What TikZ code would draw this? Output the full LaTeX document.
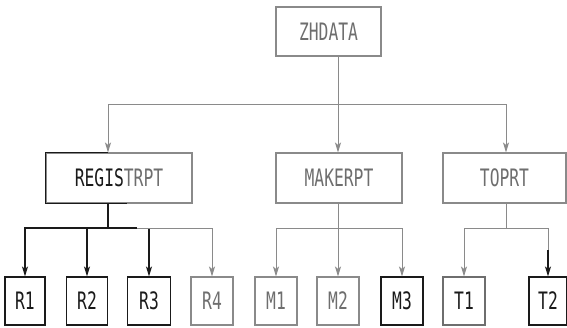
\documentclass[tikz,border=0pt]{standalone}
\usepackage{fontspec}
\newfontfamily\diafont[FakeStretch=0.68]{DejaVu Sans Mono}
\usetikzlibrary{arrows.meta}
\definecolor{lg}{HTML}{8A8A8A}
\definecolor{tg}{HTML}{6E6E6E}
\definecolor{dk}{HTML}{1A1A1A}
\begin{document}
\begin{tikzpicture}[x=1pt,y=-1pt,
  box/.style={draw=lg,line width=1.1pt,rectangle,inner sep=0pt,font=\diafont\fontsize{24}{24}\selectfont,text=tg},
  blk/.style={draw=dk,text=dk},
  leaf/.style={box,minimum width=42pt,minimum height=48pt},
  mid/.style={box,minimum height=50pt},
  ln/.style={draw=lg,line width=0.9pt},
  lnb/.style={draw=dk,line width=1.1pt},
  arr/.style={-{Stealth[length=10pt,width=6pt,inset=2.5pt]}}]
\useasboundingbox (0,0) rectangle (567,327);
% top
\node[box,minimum width=105pt,minimum height=49pt] (Z) at (328.5,31.5) {ZHDATA};
% level 2
\node[mid,minimum width=146pt] (REG) at (119,178) {\textcolor{dk}{REGIS}TRPT};
\node[mid,minimum width=126pt] (MAK) at (339,178) {MAKERPT};
\node[mid,minimum width=123pt] (TOP) at (504.5,178) {TOPRT};
% level 3
\node[leaf,blk,minimum width=40pt] (R1) at (25,301) {R1};
\node[leaf,blk,minimum width=41pt] (R2) at (87,301) {R2};
\node[leaf,blk,minimum width=43pt] (R3) at (149,301) {R3};
\node[leaf] (R4) at (212,301) {R4};
\node[leaf] (M1) at (276,301) {M1};
\node[leaf] (M2) at (338,301) {M2};
\node[leaf,blk] (M3) at (402,301) {M3};
\node[leaf,draw=tg,text=dk] (T1) at (464,301) {T1};
\node[leaf,blk,minimum width=38pt] (T2) at (548,301) {T2};
% black part of REGISTRPT border
\draw[lnb] (REG.north west -| 108,0) -- (REG.north west) -- (REG.south west) -- (REG.south west -| 127,0);
% coordinates of branch points
\coordinate (zb) at (338,104);
\coordinate (rb) at (108,228);
\coordinate (rg) at (137,228);
\coordinate (mb) at (338,228);
\coordinate (tb) at (506,228);
\coordinate (tk) at (548,250);
% level 1 connectors
\draw[ln] (Z.south -| zb) -- (zb);
\draw[ln,arr] (zb) -| (REG.north -| rb);
\draw[ln,arr] (zb) -- (MAK.north -| zb);
\draw[ln,arr] (zb) -| (TOP.north -| tb);
% REGISTRPT children
\draw[lnb] (REG.south -| rb) -- (rb);
\draw[lnb,arr] (rb) -| (R1);
\draw[lnb,arr] (rb) -| (R2);
\draw[lnb] (rb) -- (rg);
\draw[lnb,arr] (R3.north |- rb) -- (R3);
\draw[ln,arr] (rg) -| (R4);
% MAKERPT children
\draw[ln] (MAK.south -| mb) -- (mb);
\draw[ln,arr] (mb) -| (M1);
\draw[ln,arr] (mb) -- (M2);
\draw[ln,arr] (mb) -| (M3);
% TOPRT children
\draw[ln] (TOP.south -| tb) -- (tb);
\draw[ln,arr] (tb) -| (T1);
\draw[ln] (tb) -| (tk);
\draw[lnb,arr] (tk) -- (T2);
\end{tikzpicture}
\end{document}
